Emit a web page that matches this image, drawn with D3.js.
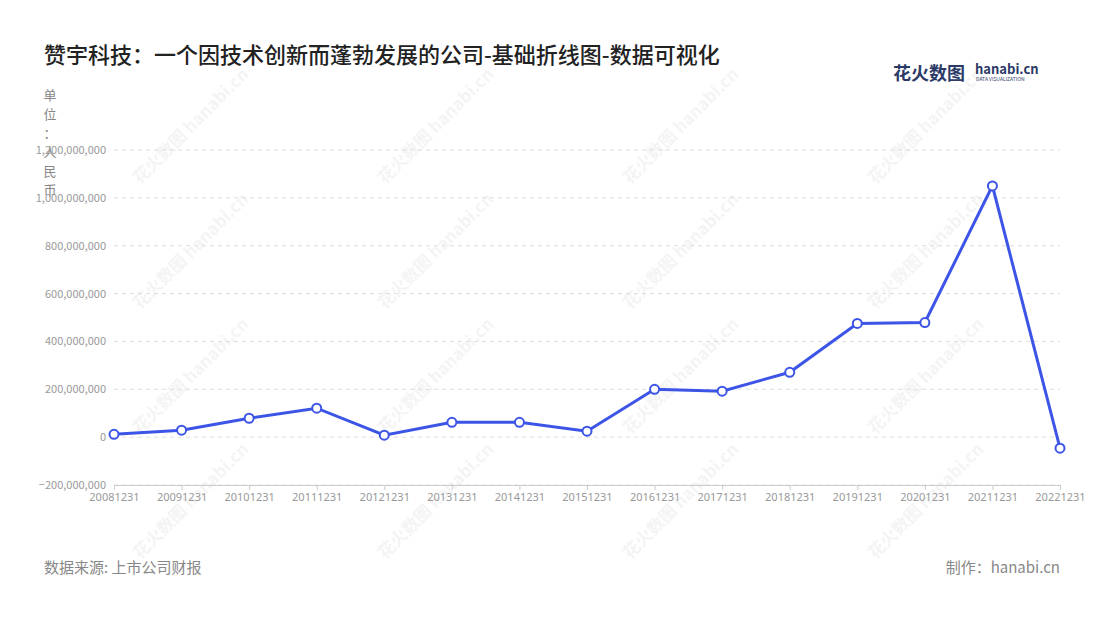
<!DOCTYPE html>
<html><head><meta charset="utf-8">
<script src="https://cdn.jsdelivr.net/npm/d3@7"></script>
<style>
body{margin:0;background:#fff;font-family:"Noto Sans CJK SC","Noto Sans",sans-serif;}
</style></head><body><div id="chart"></div>
<script>
// Data
const years = ['20081231','20091231','20101231','20111231','20121231','20131231','20141231','20151231','20161231','20171231','20181231','20191231','20201231','20211231','20221231']
const values = [12e6, 29e6, 79e6, 121e6, 8e6, 62e6, 62e6, 25e6, 200e6, 192e6, 271e6, 475e6, 479e6, 1050e6, -46e6]
const yTicks = [-200e6, 0, 200e6, 400e6, 600e6, 800e6, 1000e6, 1200e6]

const width = 1100, height = 620
const svg = d3.select('#chart').append('svg').attr('width', width).attr('height', height)

// watermarks
for (let i = 0; i < 4; i++) for (let j = 0; j < 4; j++) {
  svg.append('text').text('花火数图 hanabi.cn')
    .attr('transform', `translate(${140 + i * 245},${185 + j * 125}) rotate(-45)`)
    .attr('fill', '#000').attr('opacity', 0.04).attr('font-size', 17).attr('font-weight', 700)
}

svg.append('text').text('赞宇科技：一个因技术创新而蓬勃发展的公司-基础折线图-数据可视化')
  .attr('x', 44).attr('y', 63).attr('font-size', 22).attr('font-weight', 500).attr('fill', '#222')

// logo
svg.append('text').text('花火数图').attr('x', 893).attr('y', 80).attr('font-size', 18).attr('font-weight', 700).attr('fill', '#2b3a67')
svg.append('text').text('hanabi.cn').attr('x', 975).attr('y', 74).attr('font-size', 13).attr('font-weight', 700).attr('fill', '#2b3a67')
svg.append('text').text('DATA VISUALIZATION').attr('x', 976).attr('y', 81).attr('font-size', 5).attr('fill', '#2b3a67')

// unit label
'单位：人民币'.split('').forEach((c, i) => {
  svg.append('text').text(c).attr('x', 50).attr('y', 100 + i * 19).attr('text-anchor', 'middle')
    .attr('font-size', 13).attr('fill', '#888')
})

const x = d3.scalePoint().domain(years).range([114, 1060])
const y = d3.scaleLinear().domain([-200e6, 1200e6]).range([485, 150])

svg.append('g').selectAll('line').data(yTicks).join('line')
  .attr('x1', 114).attr('x2', 1060).attr('y1', d => y(d)).attr('y2', d => y(d))
  .attr('stroke', '#ddd').attr('stroke-dasharray', '4,4')

svg.append('g').selectAll('text').data(yTicks).join('text')
  .attr('x', 106).attr('y', d => y(d) + 4).attr('text-anchor', 'end')
  .attr('font-size', 11).attr('fill', '#999').text(d => d3.format(',')(d))

const xAxis = svg.append('g').attr('transform', `translate(0,${y(-200e6)})`)
  .call(d3.axisBottom(x).tickSize(5))
xAxis.select('.domain').attr('stroke', '#ccc')
xAxis.selectAll('line').attr('stroke', '#ccc')
xAxis.selectAll('text').attr('fill', '#999').attr('font-size', 11).attr('font-family', '"Noto Sans",sans-serif')

svg.append('path').datum(values)
  .attr('d', d3.line().x((d, i) => x(years[i])).y(d => y(d)))
  .attr('fill', 'none').attr('stroke', '#3d55e6').attr('stroke-width', 3)

svg.append('g').selectAll('circle').data(values).join('circle')
  .attr('cx', (d, i) => x(years[i])).attr('cy', d => y(d)).attr('r', 4.5)
  .attr('fill', '#fff').attr('stroke', '#3d55e6').attr('stroke-width', 2)

svg.append('text').text('数据来源: 上市公司财报').attr('x', 44).attr('y', 573).attr('font-size', 15).attr('fill', '#888')
svg.append('text').text('制作：hanabi.cn').attr('x', 1060).attr('y', 573).attr('text-anchor', 'end').attr('font-size', 15).attr('fill', '#888')
</script></body></html>
